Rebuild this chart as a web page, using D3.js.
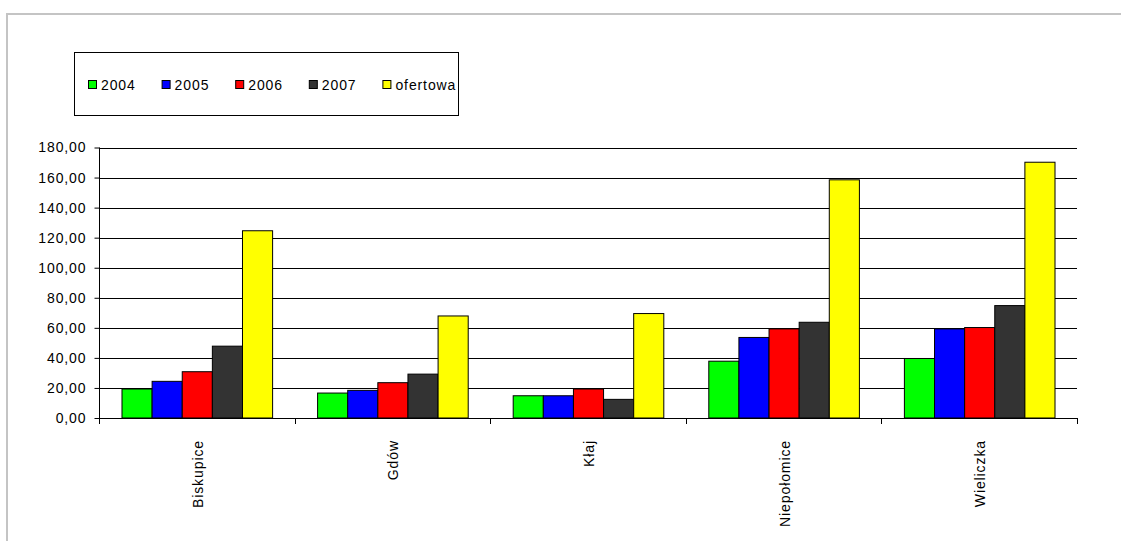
<!DOCTYPE html>
<html>
<head>
<meta charset="utf-8">
<script src="https://cdn.jsdelivr.net/npm/d3@7"></script>
<style>
  html, body { margin: 0; padding: 0; background: #fff; }
  svg { display: block; }
  text { font-family: Arial, "Liberation Sans", sans-serif; font-size: 14px; fill: #000; letter-spacing: 0.9px; }
</style>
</head>
<body>
<svg id="chart" width="1121" height="541"></svg>
<script>
// Municipalities along the category axis
const categories = ["Biskupice", "Gdów", "Kłaj", "Niepołomice", "Wieliczka"];

// Series names (legend order)
const seriesNames = ["2004", "2005", "2006", "2007", "ofertowa"];
const seriesColors = ["#00ff00", "#0000ff", "#ff0000", "#333333", "#ffff00"];

// Values per series, in category order
const values2004     = [19.3, 16.6, 14.8, 37.8, 39.6];
const values2005     = [24.4, 18.4, 14.8, 53.6, 59.3];
const values2006     = [30.8, 23.5, 19.3, 59.3, 60.2];
const values2007     = [47.8, 29.2, 12.4, 63.7, 74.8];
const valuesOfertowa = [124.6, 67.9, 69.5, 158.5, 170.2];
const seriesValues = [values2004, values2005, values2006, values2007, valuesOfertowa];

// Value axis ticks
const yTicks = [0, 20, 40, 60, 80, 100, 120, 140, 160, 180];

const svg = d3.select("#chart");

// Outer chart-area frame (extends past the window on the right and bottom)
svg.append("rect")
  .attr("x", 7).attr("y", 14)
  .attr("width", 1300).attr("height", 700)
  .attr("fill", "none")
  .attr("stroke", "#c4c4c4")
  .attr("stroke-width", 2);

const plot = { left: 99, right: 1077, top: 147.5, bottom: 418 };

const y = d3.scaleLinear().domain([0, 180]).range([plot.bottom, plot.top]);

const xCat = d3.scaleBand().domain(categories).range([plot.left, plot.right]).padding(0);
const x0 = d3.scaleBand().domain(categories).range([plot.left, plot.right])
  .paddingInner(0.23).paddingOuter(0.115);
const x1 = d3.scaleBand().domain(seriesNames).range([0, x0.bandwidth()]).padding(0);

const plFmt = d3.formatLocale({ decimal: ",", thousands: " ", grouping: [3], currency: ["", " zł"] }).format(".2f");

// Horizontal gridlines
svg.append("g")
  .selectAll("line")
  .data(yTicks.filter(d => d > 0))
  .join("line")
  .attr("x1", plot.left).attr("x2", plot.right)
  .attr("y1", d => Math.round(y(d)) + 0.5).attr("y2", d => Math.round(y(d)) + 0.5)
  .attr("stroke", "#000").attr("stroke-width", 1);

// Bars
const barsG = svg.append("g");
seriesNames.forEach((name, si) => {
  barsG.append("g")
    .selectAll("rect")
    .data(categories.map((c, ci) => ({ c, v: seriesValues[si][ci] })))
    .join("rect")
    .attr("x", d => x0(d.c) + x1(name) + 0.5)
    .attr("y", d => y(d.v))
    .attr("width", x1.bandwidth())
    .attr("height", d => plot.bottom - y(d.v))
    .attr("fill", seriesColors[si])
    .attr("stroke", "#000")
    .attr("stroke-width", 1);
});

// Value axis
const yAxis = d3.axisLeft(y).tickValues(yTicks).tickSize(5).tickPadding(8).tickFormat(plFmt);
const yg = svg.append("g").attr("transform", `translate(${plot.left + 0.5},0)`).call(yAxis);
yg.select(".domain").attr("stroke", "#000").attr("d", `M0,${plot.top}V${plot.bottom}`);
yg.selectAll(".tick line").attr("stroke", "#000");
yg.selectAll("text").attr("font-size", null).attr("font-family", null).attr("fill", "#000");

// Category axis: baseline, boundary ticks and rotated labels
svg.append("line")
  .attr("x1", plot.left).attr("x2", plot.right + 0.5)
  .attr("y1", plot.bottom + 0.5).attr("y2", plot.bottom + 0.5)
  .attr("stroke", "#000");

const boundaries = categories.map(c => xCat(c)).concat([plot.right]);
svg.append("g")
  .selectAll("line")
  .data(boundaries)
  .join("line")
  .attr("x1", d => Math.round(d) + 0.5).attr("x2", d => Math.round(d) + 0.5)
  .attr("y1", plot.bottom).attr("y2", plot.bottom + 6)
  .attr("stroke", "#000");

svg.append("g")
  .selectAll("text")
  .data(categories)
  .join("text")
  .attr("transform", d => `translate(${xCat(d) + xCat.bandwidth() / 2 + 6},440) rotate(-90)`)
  .attr("text-anchor", "end")
  .text(d => d);

// Legend
const legend = svg.append("g");
legend.append("rect")
  .attr("x", 74.5).attr("y", 52.5)
  .attr("width", 384).attr("height", 63)
  .attr("fill", "#fff").attr("stroke", "#000");

const legendStep = 73.6;
const items = legend.selectAll("g.item")
  .data(seriesNames)
  .join("g")
  .attr("class", "item")
  .attr("transform", (d, i) => `translate(${88 + i * legendStep},0)`);
items.append("rect")
  .attr("x", 0.5).attr("y", 80.5)
  .attr("width", 8).attr("height", 8)
  .attr("fill", (d, i) => seriesColors[i])
  .attr("stroke", "#000");
items.append("text")
  .attr("x", 13).attr("y", 89.5)
  .text(d => d);
</script>
</body>
</html>
